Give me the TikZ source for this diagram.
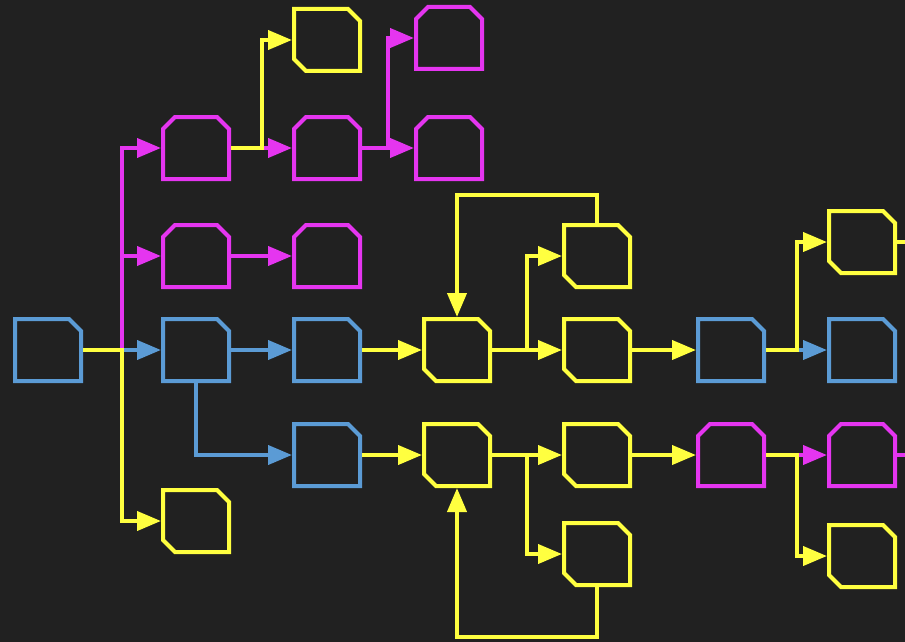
\documentclass[tikz,border=0pt]{standalone}
\usepackage{xcolor}
\usepackage{tikz}
\usetikzlibrary{arrows.meta,positioning}

\definecolor{bgdark}{HTML}{212121}
\definecolor{ylw}{HTML}{FFFF40}
\definecolor{mag}{HTML}{E535F0}
\definecolor{blu}{HTML}{5B9BD5}

\begin{document}
\begin{tikzpicture}[
  x=1pt, y=1pt,
  card/.style  = {rectangle, minimum width=70pt, minimum height=66pt,
                  inner sep=0pt, outer sep=0pt},
  rim/.style   = {line width=4pt, line join=miter},
  bl/.style    = {card, path picture={\draw[rim, blu]
                   (-33,-31) -- (33,-31) -- (33,19) -- (21,31)
                   -- (-33,31) -- cycle;}},
  mg/.style    = {card, path picture={\draw[rim, mag]
                   (-33,-31) -- (33,-31) -- (33,19) -- (21,31)
                   -- (-21,31) -- (-33,19) -- cycle;}},
  yl/.style    = {card, path picture={\draw[rim, ylw]
                   (-21,-31) -- (33,-31) -- (33,19) -- (21,31)
                   -- (-33,31) -- (-33,-19) -- cycle;}},
  arr/.style   = {-{Triangle[length=24pt,width=19pt]}, line width=4pt},
  wire/.style  = {line width=4pt},
]

\useasboundingbox (0,0) rectangle (905,-642);
\fill[bgdark] (0,0) rectangle (905,-642);

%% ---------- COLUMN 0/1 ----------
\node[bl] (A) at (48,-350) {};

\node[bl, right=78pt of A]  (B3) {};
\node[mg, above=28pt of B3] (B2) {};
\node[mg, above=42pt of B2] (B1) {};
\node[yl, below=105pt of B3] (B4) {};

%% ---------- COLUMN 2/3 ----------
\node[mg, right=61pt of B1] (C1) {};
\node[yl, above=42pt of C1] (C0) {};
\node[mg, right=61pt of B2] (C2) {};
\node[bl, right=61pt of B3] (C3) {};
\node[bl, below=39pt of C3] (C4) {};

\node[mg, right=52pt of C1] (D1) {};
\node[mg, above=44pt of D1] (D0) {};

\node[yl, right=60pt of C3] (E3) {};
\node[yl, right=60pt of C4] (E4) {};

%% ---------- COLUMN 4/5/6 ----------
\node[yl, right=70pt of E3] (F3) {};
\node[yl, above=28pt of F3] (F2) {};
\node[yl, right=70pt of E4] (F4) {};
\node[yl, below=33pt of F4] (F5) {};

\node[bl, right=64pt of F3] (G3) {};
\node[mg, right=64pt of F4] (G4) {};

\node[bl, right=61pt of G3] (H3) {};
\node[yl, above=42pt of H3] (H2) {};
\node[mg, right=61pt of G4] (H4) {};
\node[yl, below=35pt of H4] (H5) {};

\coordinate[right=12pt of H2.east] (H2r);
\coordinate[right=12pt of H4.east] (H4r);

%% ---------- EDGES ----------
\draw[arr, mag] (A.east) -- ++(39,0) |- (B1);
\draw[arr, mag] (A.east) -- ++(39,0) |- (B2);
\draw[arr, blu] (A) -- (B3);
\draw[arr, ylw] (A.east) -- ++(39,0) |- (B4);

\draw[arr, mag] (B1) -- (C1);
\draw[arr, ylw] (B1.east) -- ++(31,0) |- (C0);
\draw[arr, mag] (B2) -- (C2);
\draw[arr, blu] (B3) -- (C3);
\draw[arr, blu] (B3.south) |- (C4);

\draw[arr, mag] (C1.east) -- ++(26,0) |- (D0);
\draw[arr, mag] (C1) -- (D1);
\draw[arr, ylw] (C3) -- (E3);
\draw[arr, ylw] (C4) -- (E4);

\draw[arr, ylw] (E3.east) -- ++(35,0) |- (F2);
\draw[arr, ylw] (E3) -- (F3);
\draw[arr, ylw] (E4) -- (F4);
\draw[arr, ylw] (E4.east) -- ++(35,0) |- (F5);

%% loops back
\draw[arr, ylw] (F2.north) -- ++(0,28) -| (E3.north);
\draw[arr, ylw] (F5.south) -- ++(0,-50) -| (E4.south);

\draw[arr, ylw] (F3) -- (G3);
\draw[arr, ylw] (F4) -- (G4);

\draw[arr, blu] (G3) -- (H3);
\draw[arr, ylw] (G3.east) -- ++(31,0) |- (H2);
\draw[arr, mag] (G4) -- (H4);
\draw[arr, ylw] (G4.east) -- ++(31,0) |- (H5);

\draw[wire, ylw] (H2.east) -- (H2r);
\draw[wire, mag] (H4.east) -- (H4r);

\end{tikzpicture}
\end{document}
